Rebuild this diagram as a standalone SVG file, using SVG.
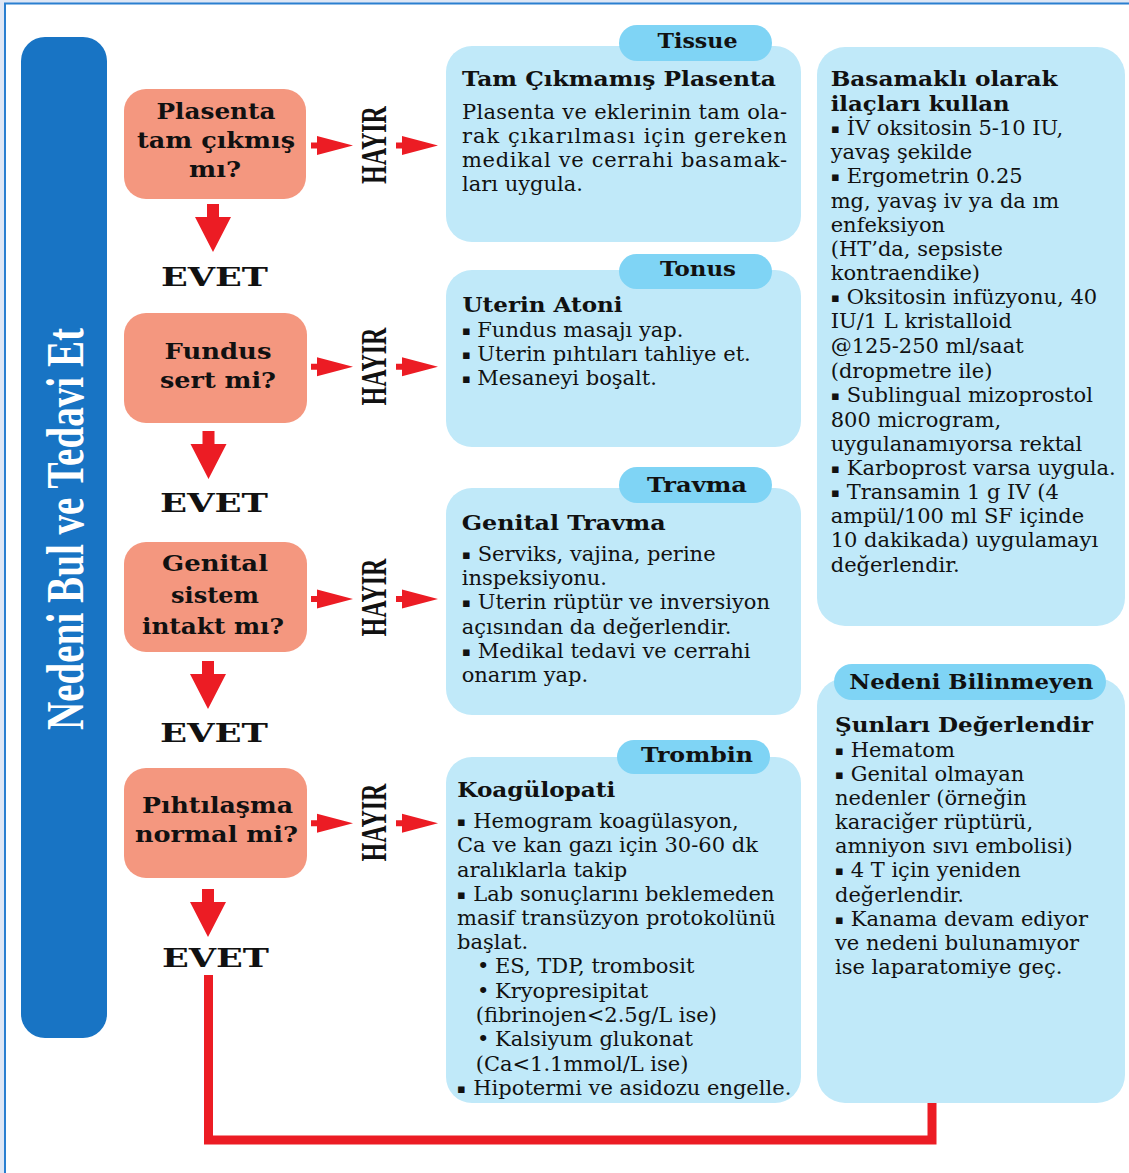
<svg xmlns="http://www.w3.org/2000/svg" xmlns:xlink="http://www.w3.org/1999/xlink" width="1129" height="1173" viewBox="0 0 1129 1173">
<style>
.b{font-family:"DejaVu Serif","Liberation Serif",serif;font-size:21px;fill:#111}
.h{font-family:"DejaVu Serif","Liberation Serif",serif;font-weight:bold;font-size:21px;fill:#111}
.q{font-family:"DejaVu Serif","Liberation Serif",serif;font-weight:bold;font-size:22px;fill:#111;text-anchor:middle}
.ev{font-family:"DejaVu Serif","Liberation Serif",serif;font-weight:bold;font-size:26px;fill:#111;text-anchor:middle}
.tg{font-family:"DejaVu Serif","Liberation Serif",serif;font-weight:bold;font-size:20px;fill:#111;text-anchor:middle}
.hy{font-family:"Liberation Serif",serif;font-weight:bold;font-size:35px;fill:#111;text-anchor:middle}
.sq{font-size:13px}
.pink{fill:#f4977f}
.box{fill:#c0e9f9}
.tag{fill:#7fd4f5}
.arr{fill:#ec1c24}
</style>
<defs>
<path id="ra" d="M0,-3 H6 V-9.5 L42,0 L6,9.5 V3 H0 Z"/>
<path id="da" d="M-6,0 H6 V13 H18 L0,48 L-18,13 H-6 Z"/>
</defs>
<rect x="0" y="0" width="1129" height="1173" fill="#dfe7f5"/>
<rect x="5" y="3.5" width="1200" height="1200" fill="#fff" stroke="#2a7fd0" stroke-width="2"/>

<g id="title-bar">
<rect x="21" y="37" width="86" height="1001" rx="24" fill="#1874c4"/>
<text transform="translate(83,529) rotate(-90)" font-family="Liberation Serif,serif" font-weight="bold" font-size="52" fill="#fff" text-anchor="middle" textLength="402" lengthAdjust="spacingAndGlyphs">Nedeni Bul ve Tedavi Et</text>
</g>

<g id="connectors">
<use xlink:href="#da" x="213" y="204" class="arr"/>
<use xlink:href="#da" x="208.5" y="431" class="arr"/>
<use xlink:href="#da" x="208" y="661" class="arr"/>
<use xlink:href="#da" x="208" y="889" class="arr"/>
<use xlink:href="#ra" x="311" y="145.5" class="arr"/>
<use xlink:href="#ra" x="396" y="145.5" class="arr"/>
<use xlink:href="#ra" x="311" y="366.7" class="arr"/>
<use xlink:href="#ra" x="396" y="366.7" class="arr"/>
<use xlink:href="#ra" x="311" y="599" class="arr"/>
<use xlink:href="#ra" x="396" y="599" class="arr"/>
<use xlink:href="#ra" x="311" y="823.3" class="arr"/>
<use xlink:href="#ra" x="396" y="823.3" class="arr"/>
<path d="M208.5,975 V1140 H932 V1103" fill="none" stroke="#ec1c24" stroke-width="9"/>
</g>

<g id="q1">
<rect class="pink" x="124" y="89" width="182" height="110" rx="22"/>
<text class="q" x="216" y="119" textLength="119" lengthAdjust="spacingAndGlyphs">Plasenta</text>
<text class="q" x="216" y="148" textLength="158" lengthAdjust="spacingAndGlyphs">tam çıkmış</text>
<text class="q" x="215" y="177" textLength="52" lengthAdjust="spacingAndGlyphs">mı?</text>
</g>
<g id="q2">
<rect class="pink" x="124" y="313" width="183" height="110" rx="22"/>
<text class="q" x="218" y="359" textLength="107" lengthAdjust="spacingAndGlyphs">Fundus</text>
<text class="q" x="218" y="388" textLength="116" lengthAdjust="spacingAndGlyphs">sert mi?</text>
</g>
<g id="q3">
<rect class="pink" x="124" y="542" width="183" height="110" rx="22"/>
<text class="q" x="215" y="571" textLength="106" lengthAdjust="spacingAndGlyphs">Genital</text>
<text class="q" x="215" y="603" textLength="88" lengthAdjust="spacingAndGlyphs">sistem</text>
<text class="q" x="213" y="634" textLength="142" lengthAdjust="spacingAndGlyphs">intakt mı?</text>
</g>
<g id="q4">
<rect class="pink" x="124" y="768" width="183" height="110" rx="22"/>
<text class="q" x="217.5" y="813" textLength="151" lengthAdjust="spacingAndGlyphs">Pıhtılaşma</text>
<text class="q" x="216.5" y="842" textLength="163" lengthAdjust="spacingAndGlyphs">normal mi?</text>
</g>

<g id="evet-labels">
<text class="ev" x="214.5" y="286" textLength="107" lengthAdjust="spacingAndGlyphs">EVET</text>
<text class="ev" x="214" y="512" textLength="108" lengthAdjust="spacingAndGlyphs">EVET</text>
<text class="ev" x="214" y="742" textLength="108" lengthAdjust="spacingAndGlyphs">EVET</text>
<text class="ev" x="215.5" y="967" textLength="107" lengthAdjust="spacingAndGlyphs">EVET</text>
</g>

<g id="hayir-labels">
<text class="hy" transform="translate(386,145) rotate(-90)" textLength="78" lengthAdjust="spacingAndGlyphs">HAYIR</text>
<text class="hy" transform="translate(386,366.5) rotate(-90)" textLength="78" lengthAdjust="spacingAndGlyphs">HAYIR</text>
<text class="hy" transform="translate(386,597.5) rotate(-90)" textLength="78" lengthAdjust="spacingAndGlyphs">HAYIR</text>
<text class="hy" transform="translate(386,822.5) rotate(-90)" textLength="78" lengthAdjust="spacingAndGlyphs">HAYIR</text>
</g>

<g id="tissue">
<rect class="box" x="446" y="46" width="355" height="196" rx="26"/>
<rect class="tag" x="619" y="25" width="153" height="36" rx="18"/>
<text class="tg" x="697.5" y="48.3" textLength="80" lengthAdjust="spacingAndGlyphs">Tissue</text>
<text class="h" x="462" y="86" textLength="314" lengthAdjust="spacingAndGlyphs">Tam Çıkmamış Plasenta</text>
<text class="b" x="462" y="118.5" textLength="325" lengthAdjust="spacing">Plasenta ve eklerinin tam ola-</text>
<text class="b" x="462" y="142.7" textLength="325" lengthAdjust="spacing">rak çıkarılması için gereken</text>
<text class="b" x="462" y="166.7" textLength="325" lengthAdjust="spacing">medikal ve cerrahi basamak-</text>
<text class="b" x="462" y="190.7">ları uygula.</text>
</g>

<g id="tonus">
<rect class="box" x="446" y="270" width="355" height="177" rx="26"/>
<rect class="tag" x="619" y="254" width="153" height="35" rx="17.5"/>
<text class="tg" x="698" y="276" textLength="76" lengthAdjust="spacingAndGlyphs">Tonus</text>
<text class="h" x="462.5" y="311.7" textLength="160" lengthAdjust="spacingAndGlyphs">Uterin Atoni</text>
<text class="b" y="337.3"><tspan class="sq" x="462" dy="-2">▪</tspan><tspan x="477.3" dy="2">Fundus masajı yap.</tspan></text>
<text class="b" y="361"><tspan class="sq" x="462" dy="-2">▪</tspan><tspan x="477.3" dy="2">Uterin pıhtıları tahliye et.</tspan></text>
<text class="b" y="384.7"><tspan class="sq" x="462" dy="-2">▪</tspan><tspan x="477.3" dy="2">Mesaneyi boşalt.</tspan></text>
</g>

<g id="travma">
<rect class="box" x="446" y="488" width="355" height="227" rx="26"/>
<rect class="tag" x="619" y="467" width="153" height="36" rx="18"/>
<text class="tg" x="697" y="491.7" textLength="100" lengthAdjust="spacingAndGlyphs">Travma</text>
<text class="h" x="461.7" y="530" textLength="204" lengthAdjust="spacingAndGlyphs">Genital Travma</text>
<text class="b" y="561"><tspan class="sq" x="462" dy="-2">▪</tspan><tspan x="477.7" dy="2">Serviks, vajina, perine</tspan></text>
<text class="b" x="461.7" y="585.3">inspeksiyonu.</text>
<text class="b" y="609.3"><tspan class="sq" x="462" dy="-2">▪</tspan><tspan x="477.7" dy="2">Uterin rüptür ve inversiyon</tspan></text>
<text class="b" x="461.7" y="633.7">açısından da değerlendir.</text>
<text class="b" y="658"><tspan class="sq" x="462" dy="-2">▪</tspan><tspan x="477.7" dy="2">Medikal tedavi ve cerrahi</tspan></text>
<text class="b" x="461.7" y="682.3">onarım yap.</text>
</g>

<g id="trombin">
<rect class="box" x="446" y="757" width="355" height="346" rx="26"/>
<rect class="tag" x="617" y="740" width="153" height="34" rx="17"/>
<text class="tg" x="697" y="761.7" textLength="112" lengthAdjust="spacingAndGlyphs">Trombin</text>
<text class="h" x="457.3" y="796.7" textLength="158" lengthAdjust="spacingAndGlyphs">Koagülopati</text>
<text class="b" y="828.3"><tspan class="sq" x="457" dy="-2">▪</tspan><tspan x="473.3" dy="2">Hemogram koagülasyon,</tspan></text>
<text class="b" x="457" y="852.3">Ca ve kan gazı için 30-60 dk</text>
<text class="b" x="457" y="876.7">aralıklarla takip</text>
<text class="b" y="901"><tspan class="sq" x="457" dy="-2">▪</tspan><tspan x="473.3" dy="2">Lab sonuçlarını beklemeden</tspan></text>
<text class="b" x="457" y="925">masif transüzyon protokolünü</text>
<text class="b" x="457" y="949.3">başlat.</text>
<text class="b" y="973.3"><tspan x="477">•</tspan><tspan x="495">ES, TDP, trombosit</tspan></text>
<text class="b" y="997.7"><tspan x="477">•</tspan><tspan x="495">Kryopresipitat</tspan></text>
<text class="b" x="475.7" y="1022.3">(fibrinojen&lt;2.5g/L ise)</text>
<text class="b" y="1046"><tspan x="477">•</tspan><tspan x="495">Kalsiyum glukonat</tspan></text>
<text class="b" x="475.7" y="1070.7">(Ca&lt;1.1mmol/L ise)</text>
<text class="b" y="1095"><tspan class="sq" x="457" dy="-2">▪</tspan><tspan x="473.3" dy="2">Hipotermi ve asidozu engelle.</tspan></text>
</g>

<g id="ilac">
<rect class="box" x="817" y="47" width="308" height="579" rx="28"/>
<text class="h" x="830.7" y="86" textLength="227" lengthAdjust="spacingAndGlyphs">Basamaklı olarak</text>
<text class="h" x="830.7" y="110.7" textLength="179" lengthAdjust="spacingAndGlyphs">ilaçları kullan</text>
<text class="b" y="135"><tspan class="sq" x="831" dy="-2">▪</tspan><tspan x="846.7" dy="2">İV oksitosin 5-10 IU,</tspan></text>
<text class="b" x="830.7" y="159">yavaş şekilde</text>
<text class="b" y="183.3"><tspan class="sq" x="831" dy="-2">▪</tspan><tspan x="846.7" dy="2">Ergometrin 0.25</tspan></text>
<text class="b" x="830.7" y="207.7">mg, yavaş iv ya da ım</text>
<text class="b" x="830.7" y="231.7">enfeksiyon</text>
<text class="b" x="830.7" y="256">(HT’da, sepsiste</text>
<text class="b" x="830.7" y="280">kontraendike)</text>
<text class="b" y="304.3"><tspan class="sq" x="831" dy="-2">▪</tspan><tspan x="846.7" dy="2">Oksitosin infüzyonu, 40</tspan></text>
<text class="b" x="830.7" y="328.3">IU/1 L kristalloid</text>
<text class="b" x="830.7" y="353">@125-250 ml/saat</text>
<text class="b" x="830.7" y="377.5">(dropmetre ile)</text>
<text class="b" y="402"><tspan class="sq" x="831" dy="-2">▪</tspan><tspan x="846.7" dy="2">Sublingual mizoprostol</tspan></text>
<text class="b" x="830.7" y="426.5">800 microgram,</text>
<text class="b" x="830.7" y="451">uygulanamıyorsa rektal</text>
<text class="b" y="475"><tspan class="sq" x="831" dy="-2">▪</tspan><tspan x="846.7" dy="2">Karboprost varsa uygula.</tspan></text>
<text class="b" y="499.3"><tspan class="sq" x="831" dy="-2">▪</tspan><tspan x="846.7" dy="2">Transamin 1 g IV (4</tspan></text>
<text class="b" x="830.7" y="523.3">ampül/100 ml SF içinde</text>
<text class="b" x="830.7" y="547.3">10 dakikada) uygulamayı</text>
<text class="b" x="830.7" y="571.7">değerlendir.</text>
</g>

<g id="bilinmeyen">
<rect class="box" x="817" y="678" width="308" height="425" rx="28"/>
<rect class="tag" x="834" y="664" width="272" height="36" rx="18"/>
<text class="tg" x="971.3" y="689.3" textLength="244" lengthAdjust="spacingAndGlyphs">Nedeni Bilinmeyen</text>
<text class="h" x="835" y="731.7" textLength="258" lengthAdjust="spacingAndGlyphs">Şunları Değerlendir</text>
<text class="b" y="756.7"><tspan class="sq" x="835" dy="-2">▪</tspan><tspan x="850.7" dy="2">Hematom</tspan></text>
<text class="b" y="780.7"><tspan class="sq" x="835" dy="-2">▪</tspan><tspan x="850.7" dy="2">Genital olmayan</tspan></text>
<text class="b" x="835" y="805">nedenler (örneğin</text>
<text class="b" x="835" y="829.3">karaciğer rüptürü,</text>
<text class="b" x="835" y="853.3">amniyon sıvı embolisi)</text>
<text class="b" y="877.3"><tspan class="sq" x="835" dy="-2">▪</tspan><tspan x="850.7" dy="2">4 T için yeniden</tspan></text>
<text class="b" x="835" y="901.7">değerlendir.</text>
<text class="b" y="925.7"><tspan class="sq" x="835" dy="-2">▪</tspan><tspan x="850.7" dy="2">Kanama devam ediyor</tspan></text>
<text class="b" x="835" y="950">ve nedeni bulunamıyor</text>
<text class="b" x="835" y="974">ise laparatomiye geç.</text>
</g>
</svg>
